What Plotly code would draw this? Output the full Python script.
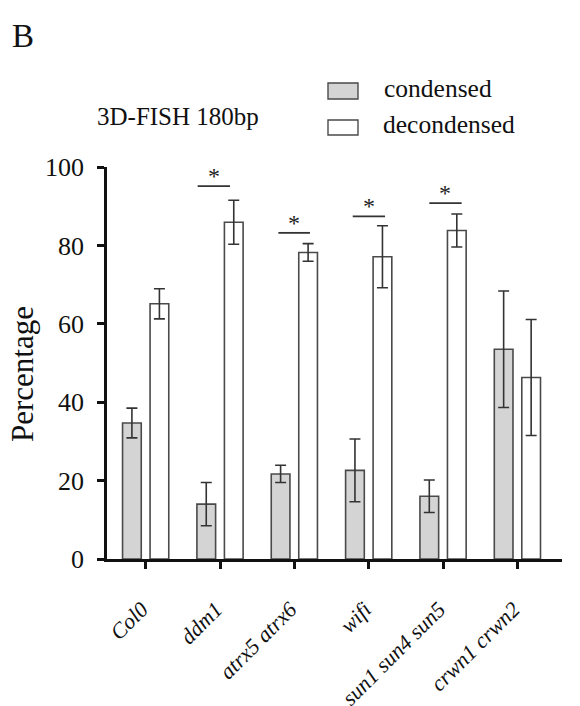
import plotly.graph_objects as go

# Genotypes and measured nuclear states (3D-FISH, 180bp repeat)
genotypes = ["Col0", "ddm1", "atrx5 atrx6", "wifi", "sun1 sun4 sun5", "crwn1 crwn2"]
condensed = [34.7, 14.0, 21.7, 22.6, 16.0, 53.5]
condensed_err = [3.8, 5.5, 2.2, 8.0, 4.15, 14.85]
decondensed = [65.1, 85.9, 78.2, 77.1, 83.8, 46.3]
decondensed_err = [3.85, 5.6, 2.25, 7.9, 4.2, 14.8]
y_ticks = [0, 20, 40, 60, 80, 100]

# Significance brackets: genotype index, bracket height, left/right extent around the group
sig_index = [1, 2, 3, 4]
sig_height = [95.1, 83.2, 87.4, 90.8]
sig_left = [-0.30, -0.215, -0.215, -0.185]
sig_right = [0.135, 0.21, 0.22, 0.25]

FONT = "Liberation Serif, Times New Roman, serif"
OUTLINE = "#4a4a4a"

fig = go.Figure()
fig.add_trace(go.Bar(
    name="condensed", x=genotypes, y=condensed,
    marker=dict(color="#d4d4d4", line=dict(color=OUTLINE, width=1.6)),
    error_y=dict(type="data", array=condensed_err, color="#333333", thickness=1.6, width=5.5),
))
fig.add_trace(go.Bar(
    name="decondensed", x=genotypes, y=decondensed,
    marker=dict(color="#ffffff", line=dict(color=OUTLINE, width=1.6)),
    error_y=dict(type="data", array=decondensed_err, color="#333333", thickness=1.6, width=5.5),
))

L, R, T, B = 107, 18, 167, 147
W, H = 580, 706
pw, ph = W - L - R, H - T - B

def px(x):
    return (x - L) / pw

def py(y):
    return (H - B - y) / ph

shapes = []
annotations = []
for i, h, a, b in zip(sig_index, sig_height, sig_left, sig_right):
    shapes.append(dict(type="line", xref="x", yref="y", x0=i + a, x1=i + b, y0=h, y1=h,
                       line=dict(color="#333333", width=1.8)))
    annotations.append(dict(xref="x", yref="y", x=i + (a + b) / 2, y=h, text="*",
                            showarrow=False, yanchor="bottom", yshift=-5,
                            font=dict(family=FONT, size=24, color="#222222")))

# Legend boxes and labels
shapes += [
    dict(type="rect", xref="paper", yref="paper", x0=px(328), x1=px(358), y0=py(99), y1=py(83),
         fillcolor="#d4d4d4", line=dict(color=OUTLINE, width=1.4)),
    dict(type="rect", xref="paper", yref="paper", x0=px(328), x1=px(358), y0=py(135), y1=py(120),
         fillcolor="#ffffff", line=dict(color=OUTLINE, width=1.4)),
]
annotations += [
    dict(xref="paper", yref="paper", x=px(382), y=py(89), text="condensed", showarrow=False,
         xanchor="left", yanchor="middle", font=dict(family=FONT, size=25.5, color="#111111")),
    dict(xref="paper", yref="paper", x=px(381), y=py(125), text="decondensed", showarrow=False,
         xanchor="left", yanchor="middle", font=dict(family=FONT, size=25.5, color="#111111")),
    dict(xref="paper", yref="paper", x=px(178), y=py(116), text="3D-FISH 180bp", showarrow=False,
         xanchor="center", yanchor="middle", font=dict(family=FONT, size=25, color="#111111")),
    dict(xref="paper", yref="paper", x=px(10), y=py(36), text="B", showarrow=False,
         xanchor="left", yanchor="middle", font=dict(family=FONT, size=33, color="#111111")),
    dict(xref="paper", yref="paper", x=px(22), y=py(374), text="Percentage", showarrow=False,
         textangle=-90, xanchor="center", yanchor="middle",
         font=dict(family=FONT, size=31, color="#111111")),
]

fig.update_layout(
    width=W, height=H,
    margin=dict(l=L, r=R, t=T, b=B, pad=0, autoexpand=False),
    paper_bgcolor="white", plot_bgcolor="white",
    barmode="group", bargap=0.26, bargroupgap=0.32,
    showlegend=False,
    shapes=shapes, annotations=annotations,
    font=dict(family=FONT, color="#111111"),
)
fig.update_xaxes(
    range=[-0.52, 5.6], showline=True, linecolor="#111111", linewidth=2.5,
    ticks="outside", ticklen=7, tickwidth=2.5, tickcolor="#111111",
    tickangle=-45, tickfont=dict(family=FONT, size=22, style="italic", color="#111111"),
    ticklabelstandoff=19, ticklabelshift=-4, automargin=False,
    showgrid=False, zeroline=False,
)
fig.update_yaxes(
    range=[0, 100], tickvals=y_ticks, showline=True, linecolor="#111111", linewidth=2.5,
    ticks="outside", ticklen=7, tickwidth=2.5, tickcolor="#111111",
    tickfont=dict(family=FONT, size=26, color="#111111"), ticklabelstandoff=8,
    automargin=False, showgrid=False, zeroline=False,
)

fig.write_html("out.html")
